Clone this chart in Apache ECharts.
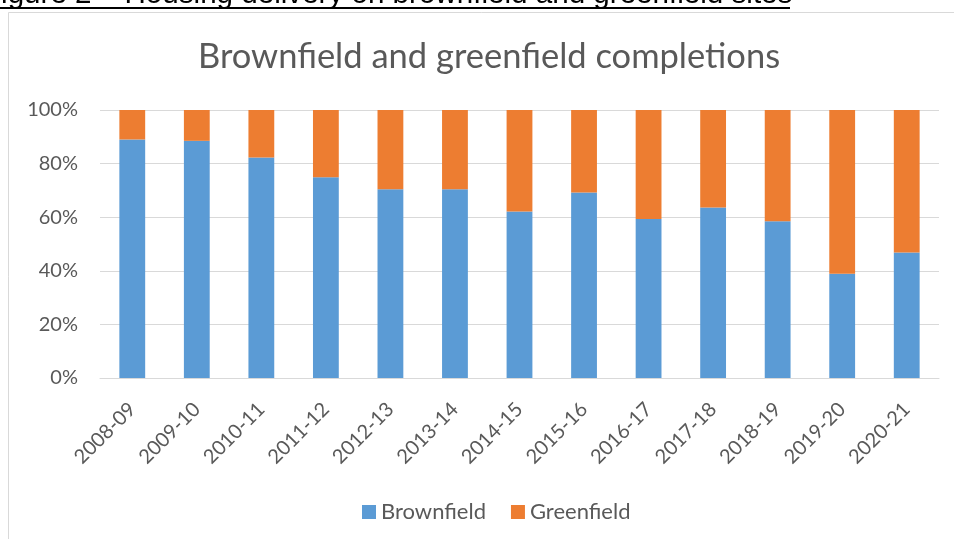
<!DOCTYPE html>
<html>
<head>
<meta charset="utf-8">
<script src="https://cdn.jsdelivr.net/npm/echarts@6/dist/echarts.min.js"></script>
<style>
html,body{margin:0;padding:0;background:#fff;}
#chart{width:954px;height:539px;}
</style>
</head>
<body>
<div id="chart"></div>
<script>
const categories = ['2008-09','2009-10','2010-11','2011-12','2012-13','2013-14','2014-15','2015-16','2016-17','2017-18','2018-19','2019-20','2020-21'];
const brownfield = [89.0, 88.5, 82.3, 74.9, 70.4, 70.4, 62.1, 69.2, 59.3, 63.6, 58.5, 38.9, 46.8];
const greenfield = [11.0, 11.5, 17.7, 25.1, 29.6, 29.6, 37.9, 30.8, 40.7, 36.4, 41.5, 61.1, 53.2];
const yTicks = [0, 20, 40, 60, 80, 100];
const titleText = 'Brownfield and greenfield completions';
const captionText = 'Figure 2 \u2013 Housing delivery on brownfield and greenfield sites';

const chart = echarts.init(document.getElementById('chart'));
const labelColor = '#595959';
const font = 'Lato, "Open Sans", sans-serif';

chart.setOption({
  animation: false,
  backgroundColor: '#fff',
  title: {
    text: titleText,
    left: 193,
    top: 34,
    textStyle: { fontFamily: font, fontSize: 34.5, fontWeight: 'normal', color: labelColor }
  },
  legend: {
    data: ['Brownfield', 'Greenfield'],
    bottom: 11,
    left: 357,
    icon: 'rect',
    itemWidth: 14,
    itemHeight: 14,
    itemGap: 25,
    textStyle: { fontFamily: font, fontSize: 22, color: labelColor }
  },
  grid: { left: 100, right: 15, top: 110, bottom: 161, containLabel: false },
  xAxis: {
    type: 'category',
    data: categories,
    axisLine: { lineStyle: { color: '#d9d9d9', width: 1 } },
    axisTick: { show: false },
    axisLabel: { rotate: 45, margin: 28, fontFamily: font, fontSize: 20, color: labelColor, interval: 0 }
  },
  yAxis: {
    type: 'value',
    min: yTicks[0],
    max: yTicks[yTicks.length - 1],
    interval: 20,
    axisLine: { show: false },
    axisTick: { show: false },
    splitLine: { lineStyle: { color: '#d9d9d9', width: 1 } },
    axisLabel: { formatter: '{value}%', margin: 22, fontFamily: font, fontSize: 20, color: labelColor }
  },
  series: [
    { name: 'Brownfield', type: 'bar', stack: 's', data: brownfield, barWidth: '40%',
      itemStyle: { color: '#5B9BD5' } },
    { name: 'Greenfield', type: 'bar', stack: 's', data: greenfield, barWidth: '40%',
      itemStyle: { color: '#ED7D31' } }
  ],
  graphic: [
    { type: 'rect', shape: { x: 8.5, y: 12.5, width: 960, height: 540 }, style: { fill: 'none', stroke: '#d9d9d9', lineWidth: 1 }, z: -1 },
    { type: 'text', x: -17, y: -5, style: { text: captionText, fontFamily: '"Liberation Sans", Arial, sans-serif', fontSize: 29.6, fill: '#000', verticalAlign: 'middle' } },
    { type: 'line', shape: { x1: 0, y1: 8, x2: 790, y2: 8 }, style: { stroke: '#000', lineWidth: 2 } }
  ]
});
</script>
</body>
</html>
